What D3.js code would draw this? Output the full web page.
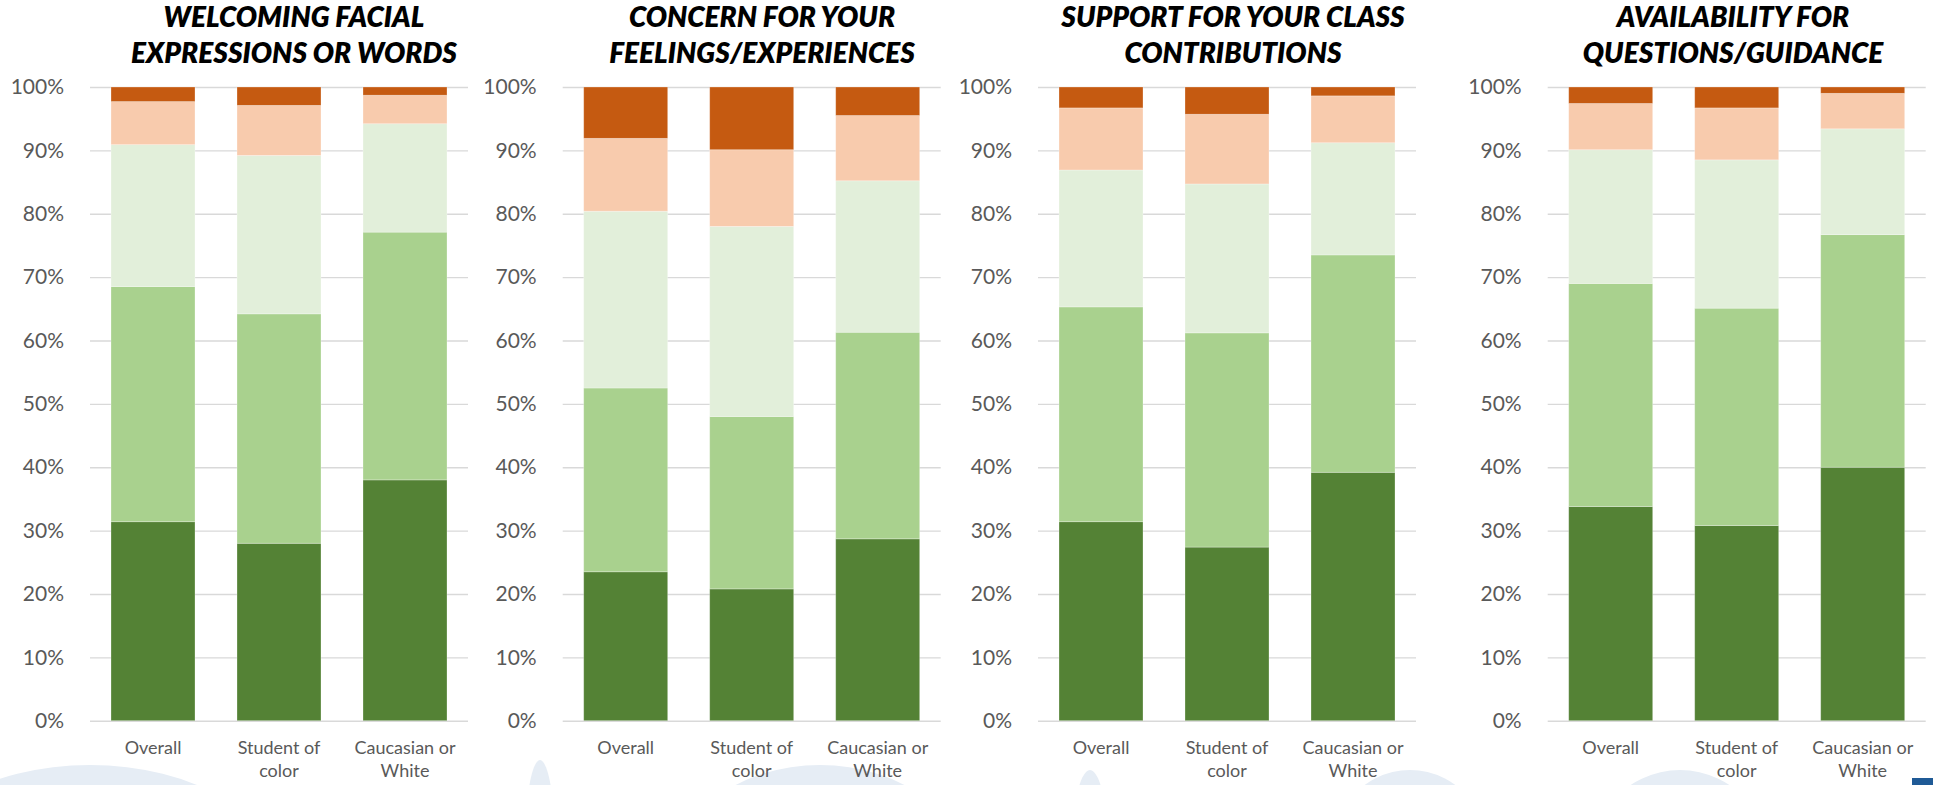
<!DOCTYPE html>
<html>
<head>
<meta charset="utf-8">
<script src="https://cdnjs.cloudflare.com/ajax/libs/d3/7.8.5/d3.min.js"></script>
<style>
  html, body { margin: 0; padding: 0; background: #ffffff; }
  svg { display: block; }
</style>
</head>
<body>
<svg id="chart" width="1933" height="785"></svg>
<script>
// ---------------- DATA ----------------
const categories = ["Overall", "Student of color", "Caucasian or White"];
const categoryLabels = [["Overall"], ["Student of", "color"], ["Caucasian or", "White"]];
const responseLevels = ["Strongly agree", "Agree", "Neutral", "Disagree", "Strongly disagree"];
const yTicks = [0, 10, 20, 30, 40, 50, 60, 70, 80, 90, 100];

const panelTitles = [
  ["WELCOMING FACIAL", "EXPRESSIONS OR WORDS"],
  ["CONCERN FOR YOUR", "FEELINGS/EXPERIENCES"],
  ["SUPPORT FOR YOUR CLASS", "CONTRIBUTIONS"],
  ["AVAILABILITY FOR", "QUESTIONS/GUIDANCE"]
];

// percentages per category (Overall, Student of color, Caucasian or White),
// in responseLevels order (bottom to top)
const welcomingValues = [
  [31.4, 37.1, 22.4, 6.8, 2.3],
  [28.0, 36.2, 25.0, 7.9, 2.9],
  [38.0, 39.1, 17.1, 4.5, 1.3]
];
const concernValues = [
  [23.5, 29.0, 27.9, 11.5, 8.1],
  [20.8, 27.2, 30.0, 12.1, 9.9],
  [28.7, 32.6, 23.9, 10.3, 4.5]
];
const supportValues = [
  [31.4, 33.9, 21.6, 9.8, 3.3],
  [27.4, 33.8, 23.5, 11.0, 4.3],
  [39.2, 34.3, 17.7, 7.4, 1.4]
];
const availabilityValues = [
  [33.8, 35.2, 21.1, 7.3, 2.6],
  [30.8, 34.3, 23.4, 8.2, 3.3],
  [40.0, 36.7, 16.7, 5.6, 1.0]
];
const panelValues = [welcomingValues, concernValues, supportValues, availabilityValues];

// ---------------- STYLE / LAYOUT ----------------
const colors = ["#548235", "#A9D18E", "#E2EFDA", "#F8CBAD", "#C55A11"];
const panelGridStart = [90, 562.7, 1038, 1547.7];
const panelTitleCenter = [294, 762, 1233, 1733];
const plotWidth = 378;
const yTop = 87, yBottom = 720.7;
const FONT = "Lato, 'Open Sans', 'Noto Sans', sans-serif";

const svg = d3.select("#chart");

// faint background watermark shapes at the bottom
const wm = svg.append("g").attr("fill", "#e6edf5");
[
  {cx: 90, cy: 880, rx: 190, ry: 115},
  {cx: 540, cy: 860, rx: 16, ry: 100},
  {cx: 820, cy: 880, rx: 150, ry: 115},
  {cx: 1090, cy: 870, rx: 20, ry: 100},
  {cx: 1410, cy: 880, rx: 90, ry: 110},
  {cx: 1680, cy: 885, rx: 100, ry: 115}
].forEach(e => wm.append("ellipse").attr("cx", e.cx).attr("cy", e.cy).attr("rx", e.rx).attr("ry", e.ry));

const y = d3.scaleLinear().domain([0, 100]).range([yBottom, yTop]);
const stack = d3.stack().keys(responseLevels);

panelValues.forEach((vals, p) => {
  const x0 = panelGridStart[p];
  const g = svg.append("g");

  const x = d3.scaleBand()
    .domain(categories)
    .range([x0, x0 + plotWidth])
    .paddingInner(1 / 3)
    .paddingOuter(1 / 6);

  // gridlines
  const grid = g.append("g")
    .attr("transform", `translate(${x0},0)`)
    .call(d3.axisLeft(y).tickValues(yTicks).tickSize(-plotWidth).tickFormat(""));
  grid.select(".domain").remove();
  grid.selectAll("line").attr("stroke", "#d9d9d9").attr("stroke-width", 1.4);

  // y labels
  const ya = g.append("g")
    .attr("transform", `translate(${x0 - 26},0)`)
    .call(d3.axisLeft(y).tickValues(yTicks).tickSize(0).tickPadding(0).tickFormat(d => d + "%"));
  ya.select(".domain").remove();
  ya.selectAll("text")
    .attr("font-family", FONT)
    .attr("font-size", 21)
    .attr("fill", "#595959");

  // stacked bars
  const table = categories.map((c, i) => {
    const row = {category: c};
    responseLevels.forEach((k, j) => row[k] = vals[i][j]);
    return row;
  });
  const series = stack(table);
  g.append("g").selectAll("g")
    .data(series)
    .join("g")
    .attr("fill", (d, i) => colors[i])
    .selectAll("rect")
    .data(d => d)
    .join("rect")
    .attr("x", d => x(d.data.category))
    .attr("width", x.bandwidth())
    .attr("y", d => y(d[1]))
    .attr("height", d => y(d[0]) - y(d[1]))
    .attr("stroke", "#ffffff")
    .attr("stroke-opacity", 0.35)
    .attr("stroke-width", 0.8);

  // x labels
  const xa = g.append("g")
    .attr("transform", `translate(0,${yBottom})`)
    .call(d3.axisBottom(x).tickSize(0).tickPadding(0).tickFormat(""));
  xa.select(".domain").remove();
  xa.selectAll(".tick").each(function (d, i) {
    const t = d3.select(this).select("text")
      .attr("y", 0).attr("dy", null)
      .attr("font-family", FONT)
      .attr("font-size", 18)
      .attr("fill", "#595959");
    categoryLabels[i].forEach((line, k) => {
      t.append("tspan").attr("x", 0).attr("y", 33 + k * 23).text(line);
    });
  });

  // title
  const title = g.append("text")
    .attr("text-anchor", "middle")
    .attr("font-family", FONT)
    .attr("font-weight", 800)
    .attr("font-style", "italic")
    .attr("font-size", 28)
    .attr("fill", "#000000");
  panelTitles[p].forEach((line, k) => {
    title.append("tspan").attr("x", panelTitleCenter[p]).attr("y", 27 + k * 36).text(line);
  });
});

// small logo corner mark
svg.append("rect").attr("x", 1912).attr("y", 778).attr("width", 21).attr("height", 7).attr("fill", "#1f5a96");
</script>
</body>
</html>
